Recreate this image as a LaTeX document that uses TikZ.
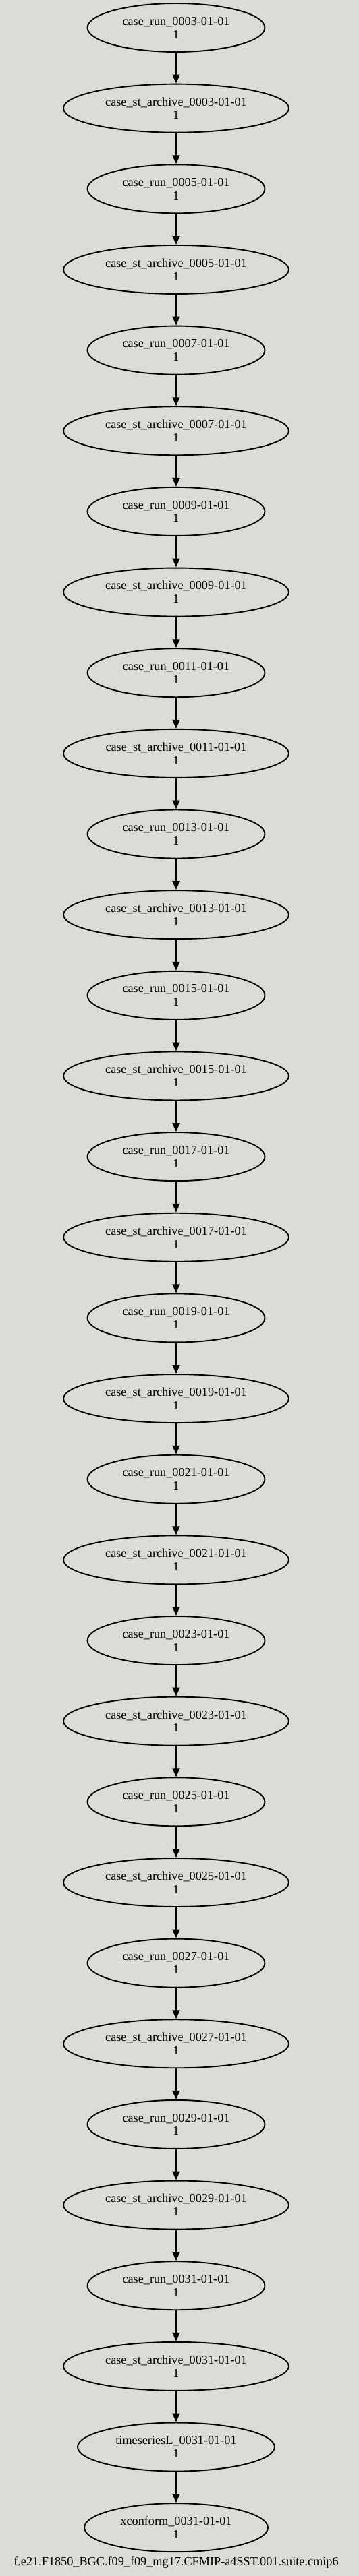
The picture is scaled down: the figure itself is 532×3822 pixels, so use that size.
\documentclass[tikz,border=0pt]{standalone}
\usepackage{fontspec}
\setmainfont{Liberation Serif}
\usetikzlibrary{shapes.geometric,arrows.meta}
\definecolor{bgcol}{RGB}{220,219,214}
\tikzset{
  basenode/.style={ellipse, draw=black, line width=1.9bp, inner sep=0pt, minimum height=72bp,
    align=center, font=\fontsize{18.3}{20}\selectfont},
  runnode/.style={basenode, minimum width=263bp},
  archnode/.style={basenode, minimum width=334bp},
  tsnode/.style={basenode, minimum width=292bp},
  xcnode/.style={basenode, minimum width=272bp},
  edge/.style={line width=1.9bp, -{Triangle[length=13bp,width=11bp]}}
}
\begin{document}
\begin{tikzpicture}[x=1bp,y=-1bp]
\fill[bgcol] (0,0) rectangle (532,3822);
\useasboundingbox (0,0) rectangle (532,3822);
\foreach \yr [count=\i from 0] in {0003,0005,0007,0009,0011,0013,0015,0017,0019,0021,0023,0025,0027,0029,0031}{
  \node[runnode] (run\yr) at (261,{41+119.65*2*\i}) {case\_run\_\yr-01-01\\1};
  \node[archnode] (arch\yr) at (261,{41+119.65*(2*\i+1)}) {case\_st\_archive\_\yr-01-01\\1};
}
\node[tsnode] (ts) at (261,{41+119.65*30}) {timeseriesL\_0031-01-01\\1};
\node[xcnode] (xc) at (261,{41+119.65*31}) {xconform\_0031-01-01\\1};
\foreach \yr in {0003,0005,0007,0009,0011,0013,0015,0017,0019,0021,0023,0025,0027,0029,0031}{
  \draw[edge] (run\yr) -- (arch\yr);
}
\foreach \a/\b in {0003/0005,0005/0007,0007/0009,0009/0011,0011/0013,0013/0015,0015/0017,0017/0019,0019/0021,0021/0023,0023/0025,0025/0027,0027/0029,0029/0031}{
  \draw[edge] (arch\a) -- (run\b);
}
\draw[edge] (arch0031) -- (ts);
\draw[edge] (ts) -- (xc);
\node[anchor=base, font=\fontsize{18.3}{20}\selectfont] (title) at (261,3806) {f.e21.F1850\_BGC.f09\_f09\_mg17.CFMIP-a4SST.001.suite.cmip6};
\end{tikzpicture}
\end{document}
